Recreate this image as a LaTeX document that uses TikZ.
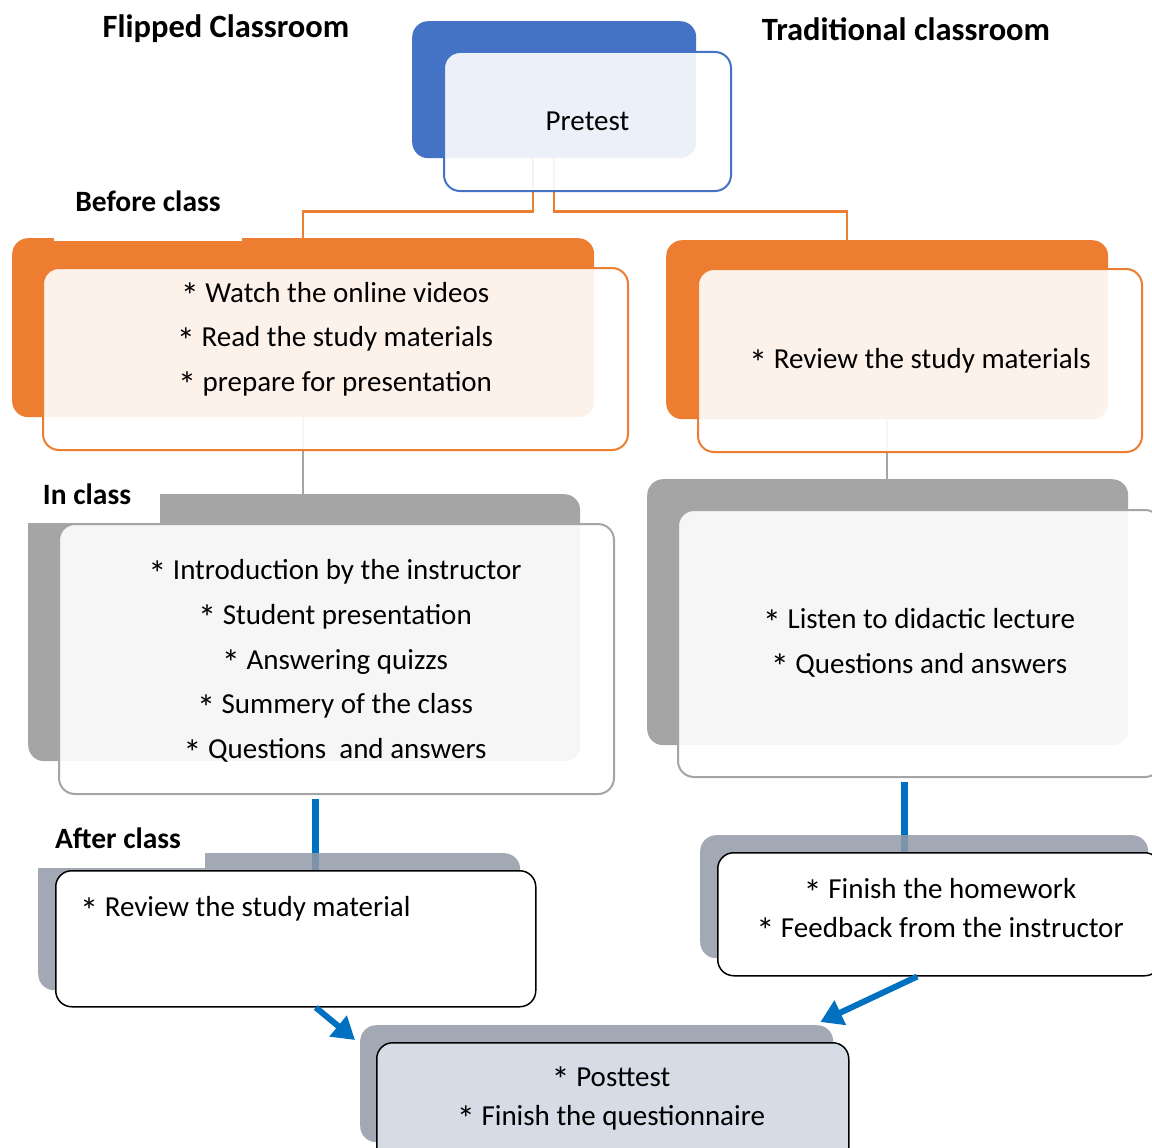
\documentclass[tikz,border=0pt]{standalone}
\usepackage{fontspec}
\usepackage{graphicx}
\setmainfont{Carlito}
\usetikzlibrary{arrows.meta,calc}
\definecolor{cblue}{HTML}{4472C4}
\definecolor{corange}{HTML}{ED7D31}
\definecolor{cgray}{HTML}{A5A5A5}
\definecolor{cslate}{HTML}{929AA7}
\definecolor{cpost}{HTML}{D6DCE5}
\definecolor{carrow}{HTML}{0070C0}
\newcommand{\myast}{\smash{\raisebox{-6.5pt}{\scalebox{1.25}{*}}}}
\pgfdeclarelayer{bg}
\pgfsetlayers{bg,main}
\tikzset{
  box/.style={rectangle, rounded corners=16pt, anchor=north west, inner sep=0pt},
  backbox/.style={box, draw=none},
  frontbox/.style={box, line width=2pt, fill=white, fill opacity=0.9},
  solidbox/.style={box, line width=1.5pt, draw=black},
  txt/.style={font=\fontsize{29}{44.6}\selectfont, align=center, inner sep=0pt},
  lbl/.style={font=\bfseries\fontsize{29.5}{35}\selectfont, fill=white, inner sep=0pt},
  ttl/.style={font=\bfseries\fontsize{32.5}{38}\selectfont, inner sep=0pt},
  orline/.style={draw=corange, line width=2.5pt},
  grline/.style={draw=cgray, line width=2pt},
  bline/.style={draw=carrow, line width=7pt},
  barrow/.style={draw=carrow, line width=6pt, -{Triangle[length=22pt,width=26pt]}}
}
\begin{document}
\begin{tikzpicture}[x=1pt,y=-1pt]
\path[use as bounding box] (0,0) rectangle (1152,1148);
\clip (0,0) rectangle (1152,1148);

% titles
\node[ttl] (t1) at (226,29) {Flipped Classroom};
\node[ttl] (t2) at (906,29) {Traditional classroom};

% pretest
\node[backbox, fill=cblue, minimum width=284pt, minimum height=137pt] (pb) at (412,21) {};
\node[frontbox, draw=cblue, minimum width=287pt, minimum height=139pt] (pf) at (443,51) {};
\node[txt] (pt) at (pf.center) {Pretest};

% before class
\node[backbox, fill=corange, minimum width=582pt, minimum height=179pt] (ob1) at (12,238) {};
\node[lbl, minimum width=188pt, minimum height=80pt] (lb1) at (148,201) {Before class};
\node[frontbox, draw=corange, minimum width=585pt, minimum height=182pt] (of1) at (42,267) {};
\node[txt] (ot1) at (335,339) {\myast{} Watch the online videos\\\myast{} Read the study materials\\\myast{} prepare for presentation};

\node[backbox, fill=corange, minimum width=442pt, minimum height=179pt] (ob2) at (666,240) {};
\node[frontbox, draw=corange, minimum width=444pt, minimum height=183pt] (of2) at (697,268) {};
\node[txt] (ot2) at (920,361) {\myast{} Review the study materials};

% in class
\node[backbox, fill=cgray, minimum width=552pt, minimum height=267pt] (gb1) at (28,494) {};
\node[lbl, minimum width=146pt, minimum height=58pt] (lb2) at (87,494) {In class};
\node[frontbox, draw=cgray, minimum width=555pt, minimum height=270pt] (gf1) at (58,523) {};
\node[txt, font=\fontsize{29}{44.8}\selectfont] (gt1) at (335,661) {\myast{} Introduction by the instructor\\\myast{} Student presentation\\\myast{} Answering quizzs\\\myast{} Summery of the class\\\myast{} Questions~ and answers};

\node[backbox, fill=cgray, minimum width=481pt, minimum height=266pt] (gb2) at (647,479) {};
\node[frontbox, draw=cgray, minimum width=483pt, minimum height=267pt] (gf2) at (677,509) {};
\node[txt, font=\fontsize{29}{44.5}\selectfont] (gt2) at (919,643) {\myast{} Listen to didactic lecture\\\myast{} Questions and answers};

% after class
\node[backbox, fill=cslate, fill opacity=0.85, minimum width=482pt, minimum height=137pt] (ab1) at (38,853) {};
\node[lbl, minimum width=174pt, minimum height=60pt] (lb3) at (118,838) {After class};
\node[solidbox, fill=white, minimum width=480pt, minimum height=136pt] (af1) at (55,870) {};
\node[txt, anchor=west] (at1) at (80,909) {\myast{} Review the study material};

\node[backbox, fill=cslate, fill opacity=0.85, minimum width=448pt, minimum height=123pt] (ab2) at (700,835) {};
\node[solidbox, fill=white, minimum width=443pt, minimum height=123pt] (af2) at (717,852) {};
\node[txt, font=\fontsize{29}{38.5}\selectfont] (at2) at (940,908) {\myast{} Finish the homework\\\myast{} Feedback from the instructor};

% posttest
\node[backbox, fill=cslate, fill opacity=0.85, minimum width=473pt, minimum height=117pt] (pb2) at (360,1025) {};
\node[solidbox, fill=cpost, minimum width=472pt, minimum height=130pt] (pf2) at (376,1042) {};
\node[txt, font=\fontsize{29}{39}\selectfont] (ptx) at (611,1099) {\myast{} Posttest\\\myast{} Finish the questionnaire};

% connectors behind boxes
\begin{pgfonlayer}{bg}
\draw[orline] ([xshift=-21pt]pb.south) -- ++(0,53) -| (ob1.north);
\draw[orline] (pb.south) -- ++(0,53) -| ([xshift=-40pt]ob2.north);
\draw[grline] (ob1.south) -- (ob1.south |- gb1.north);
\draw[grline] (ob2.south) -- (ob2.south |- gb2.north);
\draw[bline] ([xshift=-21pt,yshift=-4pt]gf1.south) -- ([xshift=-21pt]gf1.south |- af1.north);
\draw[bline] ([xshift=-15pt,yshift=-4pt]gf2.south) -- ([xshift=-15pt]gf2.south |- af2.north);
\end{pgfonlayer}

% arrows to posttest
\draw[barrow] ([xshift=20pt]af1.south) -- ([xshift=-5pt,yshift=-15pt]pb2.north west);
\draw[barrow] ([xshift=-22pt]af2.south) -- ([xshift=-13pt,yshift=3pt]pb2.north east);
\end{tikzpicture}
\end{document}
